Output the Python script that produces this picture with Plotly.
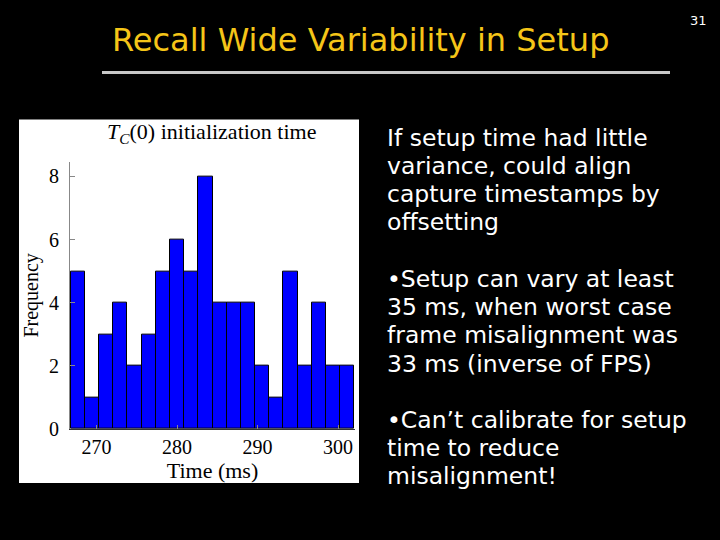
import plotly.graph_objects as go

# ---- data ----
counts = [5, 1, 3, 4, 2, 3, 5, 6, 5, 8, 4, 4, 4, 2, 1, 5, 2, 4, 2, 2]
bin_start = 266.8
bin_width = 1.76
x_ticks = [270, 280, 290, 300]
y_ticks = [0, 2, 4, 6, 8]

slide_title = "Recall Wide Variability in Setup"
page_number = "31"
text_lines = [
    ["If setup time had little", "variance, could align", "capture timestamps by", "offsetting"],
    ["\u2022Setup can vary at least", "35 ms, when worst case", "frame misalignment was", "33 ms (inverse of FPS)"],
    ["\u2022Can\u2019t calibrate for setup", "time to reduce", "misalignment!"],
]

centers = [bin_start + bin_width * (i + 0.5) for i in range(len(counts))]

W, H = 720, 540
def px(x):
    return x / W
def py(y):
    return 1 - y / H

fig = go.Figure()
fig.add_trace(go.Bar(
    x=centers, y=counts, width=[bin_width] * len(counts),
    marker=dict(color="#0000FF", line=dict(color="#000000", width=1)),
    showlegend=False, hoverinfo="x+y",
))

serif = "Liberation Serif"
fig.update_layout(
    width=W, height=H,
    margin=dict(l=0, r=0, t=0, b=0),
    paper_bgcolor="#000000",
    plot_bgcolor="#FFFFFF",
    bargap=0,
    xaxis=dict(
        domain=[px(70), px(355)],
        range=[266.7, 302.1],
        tickvals=x_ticks,
        ticks="inside", ticklen=4, tickcolor="#888888",
        showline=True, linecolor="#333333", linewidth=1,
        showgrid=False, zeroline=False,
        tickfont=dict(family=serif, size=20, color="#000000"),
        title=dict(text="Time (ms)", font=dict(family=serif, size=22, color="#000000"), standoff=0),
    ),
    yaxis=dict(
        domain=[py(438), py(165)],
        range=[0, 8.47],
        tickvals=y_ticks,
        ticks="inside", ticklen=5, tickcolor="#888888",
        showline=True, linecolor="#888888", linewidth=1,
        showgrid=False, zeroline=False,
        ticklabelstandoff=6,
        tickfont=dict(family=serif, size=20, color="#000000"),
        title=dict(text="Frequency", font=dict(family=serif, size=20, color="#000000"), standoff=4),
    ),
)

# white panel behind histogram
fig.add_shape(type="rect", xref="paper", yref="paper",
              x0=px(19), x1=px(359), y0=py(493), y1=py(122),
              fillcolor="#FFFFFF", line=dict(width=0), layer="below")
# divider line under slide title
fig.add_shape(type="line", xref="paper", yref="paper",
              x0=px(102), x1=px(670), y0=py(74), y1=py(74),
              line=dict(color="#C8C8C8", width=3))

annotations = []
# histogram title
annotations.append(dict(
    text="<i>T</i><sub><i>C</i></sub>(0) initialization time",
    xref="paper", yref="paper", x=px(211), y=py(136),
    xanchor="center", yanchor="middle", showarrow=False,
    font=dict(family=serif, size=22, color="#000000"),
))
# slide title
annotations.append(dict(
    text=slide_title, xref="paper", yref="paper", x=px(360), y=py(41),
    xanchor="center", yanchor="middle", showarrow=False,
    font=dict(family="DejaVu Sans", size=32, color="#F5C518"),
))
# page number
annotations.append(dict(
    text=page_number, xref="paper", yref="paper", x=px(698), y=py(21),
    xanchor="center", yanchor="middle", showarrow=False,
    font=dict(family="DejaVu Sans", size=13, color="#FFFFFF"),
))
# body text
block_tops = [141, 285, 429]
spacing = 28.7
for top, lines in zip(block_tops, text_lines):
    for i, line in enumerate(lines):
        annotations.append(dict(
            text=line, xref="paper", yref="paper", x=px(385), y=py(top + i * spacing),
            xanchor="left", yanchor="middle", showarrow=False,
            font=dict(family="DejaVu Sans", size=23.5, color="#FFFFFF"),
        ))
fig.update_layout(annotations=annotations)

css = "margin:0;padding:0;overflow:hidden;background:#000;"
fig.write_html(
    "out.html",
    config={"displayModeBar": False},
    post_script=(
        f"document.documentElement.style.cssText='{css}';"
        f"document.body.style.cssText='{css}';"
    ),
)
